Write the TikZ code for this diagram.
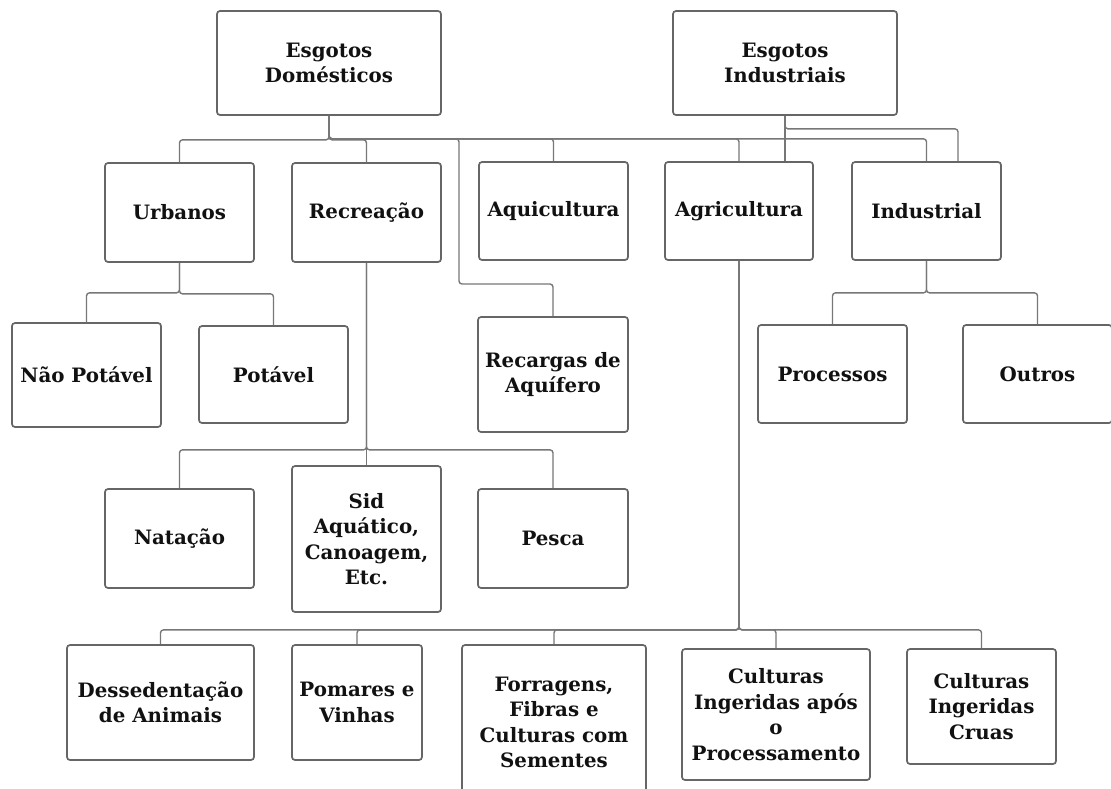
\documentclass[tikz,border=0pt]{standalone}
\usepackage{fontspec}
\setmainfont{DejaVu Serif}
\usetikzlibrary{calc}
\definecolor{boxline}{HTML}{666666}
\definecolor{conline}{HTML}{777777}
\definecolor{txt}{HTML}{111111}
\tikzset{
  box/.style={draw=boxline, line width=1.7pt, rounded corners=3pt, fill=white,
    align=center, inner sep=2pt, text=txt,
    font=\fontsize{19.8}{25.5}\selectfont\bfseries},
  con/.style={draw=conline, line width=1.4pt, rounded corners=3pt},
}
\begin{document}
\begin{tikzpicture}[x=1pt,y=-1pt]
\useasboundingbox (0,0) rectangle (1111,788);
% top level
\node[box, minimum width=224pt, minimum height=104pt] (dom) at (329,63) {Esgotos\\Domésticos};
\node[box, minimum width=224pt, minimum height=104pt] (ein) at (785,63) {Esgotos\\Industriais};
% level 2
\node[box, minimum width=149pt, minimum height=99pt] (urb) at (179.5,212.5) {Urbanos};
\node[box, minimum width=149pt, minimum height=99pt] (rec) at (366.5,212.5) {Recreação};
\node[box, minimum width=149pt, minimum height=98pt] (aq) at (553.5,211) {Aquicultura};
\node[box, minimum width=148pt, minimum height=98pt] (agr) at (739,211) {Agricultura};
\node[box, minimum width=149pt, minimum height=98pt] (ind) at (926.5,211) {Industrial};
% level 3
\node[box, minimum width=149pt, minimum height=104pt] (np) at (86.5,375) {Não Potável};
\node[box, minimum width=149pt, minimum height=97pt] (pot) at (273.5,374.5) {Potável};
\node[box, minimum width=150pt, minimum height=115pt] (rcg) at (553,374.5) {Recargas de\\Aquífero};
\node[box, minimum width=149pt, minimum height=98pt] (pro) at (832.5,374) {Processos};
\node[box, minimum width=149pt, minimum height=98pt] (out) at (1037.5,374) {Outros};
% level 4
\node[box, minimum width=149pt, minimum height=99pt] (nat) at (179.5,538.5) {Natação};
\node[box, minimum width=149pt, minimum height=146pt] (sid) at (366.5,539) {Sid\\Aquático,\\Canoagem,\\Etc.};
\node[box, minimum width=150pt, minimum height=99pt] (pes) at (553,538.5) {Pesca};
% level 5
\node[box, minimum width=187pt, minimum height=115pt] (des) at (160.5,702.5) {Dessedentação\\de Animais};
\node[box, minimum width=130pt, minimum height=115pt] (pom) at (357,702.5) {Pomares e\\Vinhas};
\node[box, minimum width=184pt, minimum height=155pt] (for) at (554,722.5) {Forragens,\\Fibras e\\Culturas com\\Sementes};
\node[box, minimum width=188pt, minimum height=131pt] (cap) at (776,714.5) {Culturas\\Ingeridas após\\o\\Processamento};
\node[box, minimum width=149pt, minimum height=115pt] (cru) at (981.5,706.5) {Culturas\\Ingeridas\\Cruas};
% connectors from Esgotos Domésticos
\draw[con] (dom.south) -- ++(0,24) -| (urb.north);
\draw[con] (dom.south) -- ++(0,24) -| (rec.north);
\draw[con] (dom.south) -- ++(0,23) -| (459,284) -| (rcg.north);
\draw[con] (dom.south) -- ++(0,23) -| (aq.north);
\draw[con] (dom.south) -- ++(0,23) -| (agr.north);
\draw[con] (dom.south) -- ++(0,23) -| (ind.north);
% connectors from Esgotos Industriais
\draw[con] (ein.south) -- (ein.south |- agr.north);
\draw[con] (ein.south) -- ++(0,13) -| ([xshift=31.5pt]ind.north);
% Urbanos
\draw[con] (urb.south) -- ++(0,30) -| (np.north);
\draw[con] (urb.south) -- ++(0,31) -| (pot.north);
% Recreacao
\draw[con] (rec.south) -- ++(0,187) -| (nat.north);
\draw[con] (rec.south) -- (sid.north);
\draw[con] (rec.south) -- ++(0,187) -| (pes.north);
% Industrial
\draw[con] (ind.south) -- ++(0,32) -| (pro.north);
\draw[con] (ind.south) -- ++(0,32) -| (out.north);
% Agricultura
\draw[con] (agr.south) -- ++(0,369) -| (des.north);
\draw[con] (agr.south) -- ++(0,369) -| (pom.north);
\draw[con] (agr.south) -- ++(0,369) -| (for.north);
\draw[con] (agr.south) -- ++(0,369) -| (cap.north);
\draw[con] (agr.south) -- ++(0,369) -| (cru.north);
\end{tikzpicture}
\end{document}
